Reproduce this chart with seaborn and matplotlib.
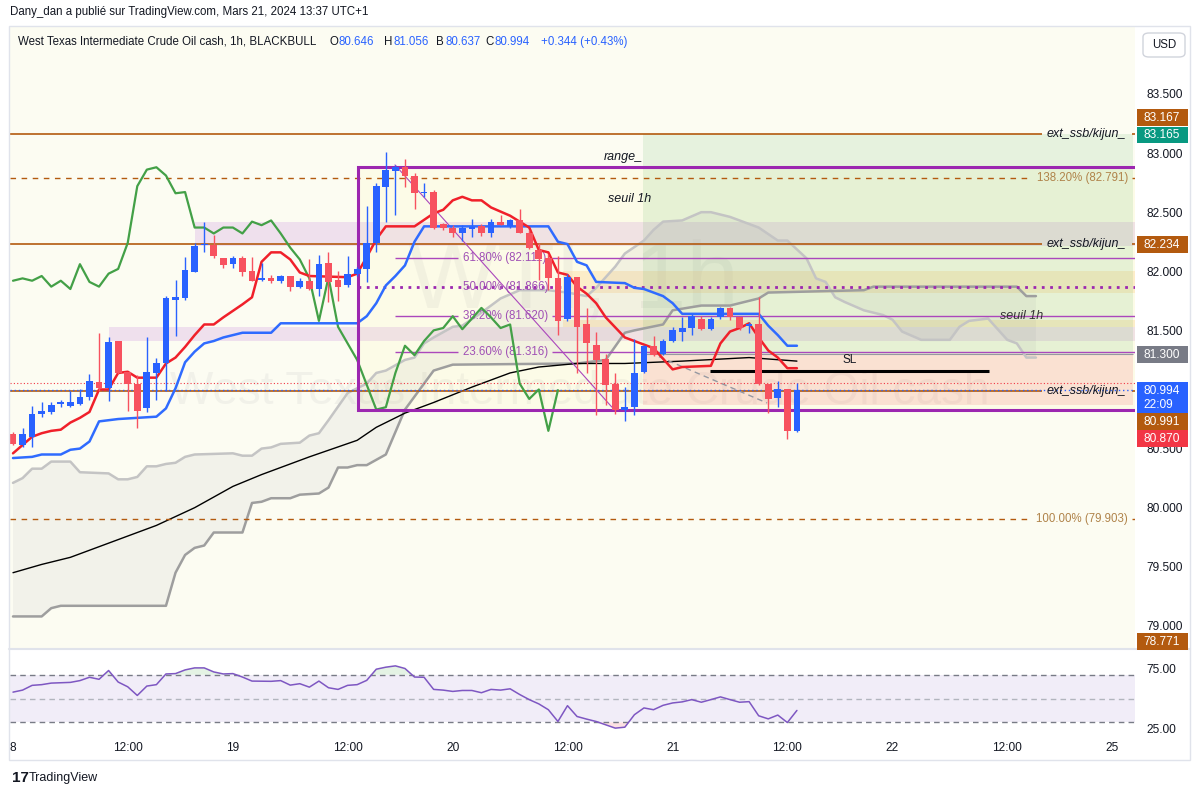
import numpy as np
import matplotlib
matplotlib.use("Agg")
import matplotlib.pyplot as plt
import seaborn as sns
from matplotlib.patches import Rectangle, FancyBboxPatch
from matplotlib.lines import Line2D

sns.set_theme(style="white")
plt.rcParams['font.family'] = ['Liberation Sans', 'DejaVu Sans']

# ---------------- données ----------------
# bougies 1h, WTI (18 -> 21 mars)
opens = [80.62, 80.53, 80.60, 80.79, 80.81, 80.88, 80.86, 80.88, 80.94, 81.06,
         81.01, 81.41, 81.15, 81.05, 80.84, 81.14, 81.22, 81.76, 81.77, 81.99,
         82.22, 82.22, 82.11, 82.06, 82.11, 82.00, 81.93, 81.94, 81.92, 81.96,
         81.87, 81.92, 81.85, 82.07, 81.93, 81.88, 81.98, 82.02, 82.24, 82.71,
         82.85, 82.88, 82.81, 82.66, 82.67, 82.40, 82.37, 82.32, 82.36, 82.38,
         82.32, 82.42, 82.38, 82.43, 82.32, 82.18, 82.11, 81.94, 81.60, 81.95,
         81.55, 81.38, 81.26, 81.05, 80.83, 80.85, 81.15, 81.37, 81.30, 81.41,
         81.49, 81.52, 81.60, 81.51, 81.61, 81.69, 81.61, 81.54, 81.55, 81.05,
         80.93, 81.00, 80.646]
highs = [80.64, 80.67, 80.86, 80.89, 80.89, 80.91, 80.99, 81.00, 81.13, 81.48,
         81.44, 81.41, 81.15, 81.12, 81.44, 81.27, 81.79, 81.93, 82.12, 82.24,
         82.42, 82.31, 82.11, 82.13, 82.13, 82.12, 82.07, 81.97, 81.97, 81.96,
         81.94, 82.10, 82.14, 82.16, 82.00, 82.13, 82.04, 82.55, 82.75, 83.01,
         82.90, 82.95, 82.83, 82.75, 82.69, 82.41, 82.39, 82.39, 82.44, 82.40,
         82.44, 82.48, 82.44, 82.53, 82.35, 82.24, 82.15, 82.13, 81.98, 81.95,
         81.69, 81.49, 81.30, 81.14, 81.02, 81.43, 81.38, 81.45, 81.43, 81.53,
         81.61, 81.64, 81.62, 81.61, 81.70, 81.70, 81.61, 81.57, 81.78, 81.05,
         81.07, 81.00, 81.056]
lows = [80.53, 80.51, 80.51, 80.77, 80.79, 80.85, 80.85, 80.87, 80.91, 80.99,
        80.90, 81.13, 80.82, 80.67, 80.81, 80.91, 80.99, 81.45, 81.76, 81.99,
        82.16, 82.11, 82.03, 82.03, 81.96, 81.92, 81.92, 81.90, 81.90, 81.83,
        81.86, 81.84, 81.79, 81.74, 81.75, 81.87, 81.96, 81.91, 82.16, 82.42,
        82.48, 82.71, 82.53, 82.63, 82.36, 82.35, 82.29, 82.26, 82.29, 82.30,
        82.29, 82.39, 82.37, 82.32, 82.19, 81.93, 81.84, 81.46, 81.58, 81.14,
        81.14, 80.78, 80.87, 80.79, 80.73, 80.78, 81.14, 81.28, 81.29, 81.40,
        81.41, 81.46, 81.50, 81.50, 81.60, 81.59, 81.50, 81.48, 81.04, 80.80,
        80.85, 80.58, 80.637]
closes = [80.54, 80.62, 80.79, 80.82, 80.87, 80.89, 80.89, 80.94, 81.07, 81.01,
          81.40, 81.14, 81.05, 80.82, 81.15, 81.22, 81.77, 81.78, 82.01, 82.21,
          82.23, 82.13, 82.05, 82.11, 81.99, 81.92, 81.94, 81.92, 81.96, 81.87,
          81.92, 81.85, 82.06, 81.91, 81.87, 81.98, 82.02, 82.24, 82.72, 82.86,
          82.88, 82.81, 82.66, 82.67, 82.37, 82.37, 82.32, 82.37, 82.37, 82.32,
          82.42, 82.39, 82.43, 82.32, 82.20, 82.10, 81.94, 81.58, 81.95, 81.53,
          81.39, 81.25, 81.04, 80.83, 80.85, 81.14, 81.37, 81.29, 81.41, 81.50,
          81.52, 81.62, 81.51, 81.60, 81.69, 81.61, 81.52, 81.55, 81.05, 80.92,
          81.00, 80.65, 80.994]

# Ichimoku (lu barre par barre)
tenkan_x = [0, 2, 3, 4, 5, 6, 7, 8, 9, 10, 11, 12, 13, 15, 16, 17, 18, 19, 20, 21, 22, 24, 25, 26,
            27, 28, 29, 30, 31, 35, 36, 37, 38, 39, 42, 44, 45, 46, 47, 48, 49, 50, 52, 54, 55,
            56, 57, 58, 59, 60, 61, 62, 64, 66, 67, 69, 70, 73, 74, 75, 76, 77, 78, 79, 80, 81, 82]
tenkan_y = [80.46, 80.60, 80.63, 80.65, 80.66, 80.72, 80.76, 80.81, 81.00, 81.00, 81.14, 81.15,
            81.10, 81.10, 81.22, 81.27, 81.36, 81.46, 81.55, 81.55, 81.61, 81.72, 81.78, 82.08,
            82.16, 82.16, 82.10, 81.99, 81.96, 81.95, 81.98, 82.12, 82.27, 82.38, 82.38, 82.49,
            82.52, 82.60, 82.63, 82.60, 82.60, 82.54, 82.47, 82.37, 82.18, 82.16, 81.99, 81.97,
            81.87, 81.81, 81.73, 81.61, 81.44, 81.38, 81.35, 81.17, 81.19, 81.20, 81.39, 81.49,
            81.52, 81.56, 81.44, 81.33, 81.27, 81.18, 81.18]
kijun_x = [0, 2, 3, 5, 6, 7, 8, 9, 10, 11, 15, 16, 17, 18, 19, 20, 21, 22, 24, 27, 28, 36, 37,
           38, 39, 40, 41, 42, 43, 56, 57, 58, 59, 60, 61, 64, 65, 66, 68, 69, 70, 78, 79, 80,
           81, 82]
kijun_y = [80.42, 80.43, 80.45, 80.45, 80.49, 80.50, 80.56, 80.73, 80.74, 80.75, 80.77, 80.84,
           81.01, 81.23, 81.32, 81.39, 81.41, 81.44, 81.48, 81.48, 81.56, 81.56, 81.62, 81.73,
           81.88, 81.96, 82.05, 82.25, 82.38, 82.38, 82.25, 82.23, 82.08, 82.05, 81.91, 81.90,
           81.86, 81.85, 81.79, 81.73, 81.64, 81.64, 81.54, 81.46, 81.37, 81.37]
ssa_x = [0, 1, 2, 3, 4, 6, 7, 10, 11, 12, 13, 14, 15, 16, 17, 18, 19, 23, 24, 25, 26, 27, 28,
         30, 31, 32, 33, 35, 37, 38, 39, 41, 42, 43, 44, 46, 47, 49, 51, 53, 56, 58, 60, 61,
         63, 64, 66, 67, 68, 70, 72, 73, 75, 76, 78, 80, 81, 83, 84, 85, 86, 87, 89, 91, 92,
         93, 95, 98, 99, 100, 102, 104, 105, 106, 107]
ssa_y = [80.21, 80.25, 80.33, 80.33, 80.39, 80.39, 80.30, 80.29, 80.24, 80.24, 80.26, 80.35,
         80.35, 80.37, 80.38, 80.43, 80.45, 80.46, 80.44, 80.44, 80.50, 80.51, 80.54, 80.55,
         80.61, 80.63, 80.74, 80.97, 81.05, 81.14, 81.16, 81.25, 81.27, 81.39, 81.44, 81.53,
         81.54, 81.65, 81.77, 81.84, 81.84, 81.82, 81.79, 81.86, 82.04, 82.15, 82.26, 82.35,
         82.42, 82.43, 82.50, 82.50, 82.46, 82.43, 82.37, 82.26, 82.26, 82.11, 81.94, 81.91,
         81.78, 81.74, 81.67, 81.63, 81.59, 81.49, 81.42, 81.42, 81.53, 81.58, 81.60, 81.42,
         81.39, 81.27, 81.27]
ssb_x = [0, 3, 4, 5, 16, 17, 18, 19, 20, 21, 24, 25, 26, 27, 29, 30, 32, 33, 34, 35, 36, 37,
         39, 40, 41, 43, 44, 46, 59, 62, 64, 65, 68, 69, 72, 75, 78, 79, 89, 90, 105, 106, 107]
ssb_y = [79.08, 79.08, 79.15, 79.17, 79.17, 79.45, 79.60, 79.66, 79.68, 79.79, 79.79, 80.04,
         80.05, 80.08, 80.08, 80.11, 80.12, 80.17, 80.34, 80.34, 80.36, 80.36, 80.45, 80.64,
         80.83, 81.05, 81.16, 81.21, 81.22, 81.25, 81.48, 81.50, 81.55, 81.67, 81.71, 81.71,
         81.77, 81.82, 81.84, 81.87, 81.87, 81.79, 81.79]
sma_x = [0, 3, 6, 9, 13, 15, 19, 23, 26, 31, 36, 38, 41, 44, 48, 52, 55, 59, 64, 70, 77, 82]
sma_y = [79.45, 79.52, 79.58, 79.67, 79.79, 79.85, 80.00, 80.18, 80.28, 80.43, 80.57, 80.68,
         80.80, 80.89, 81.02, 81.14, 81.19, 81.22, 81.22, 81.24, 81.27, 81.24]
decalage_chikou = 25

# RSI
rsi_x = [0, 1, 2, 3, 4, 6, 7, 8, 9, 10, 11, 12, 13, 14, 15, 16, 17, 18, 19, 20, 21, 22, 23, 24,
         25, 27, 28, 29, 30, 31, 32, 33, 34, 35, 36, 37, 38, 39, 40, 41, 42, 43, 44, 45, 46, 47,
         48, 49, 50, 51, 52, 53, 54, 55, 56, 57, 58, 59, 60, 61, 62, 63, 64, 65, 66, 67, 68, 69,
         70, 71, 72, 73, 74, 75, 76, 77, 78, 79, 80, 81, 82]
rsi_y = [55.4, 57.1, 61.1, 61.7, 63.0, 63.6, 65.1, 67.9, 66.2, 73.6, 63.9, 59.9, 52.6, 60.5,
         61.7, 70.7, 71.0, 74.1, 75.8, 75.8, 72.4, 70.7, 71.0, 68.1, 64.7, 64.5, 65.1, 61.3,
         62.5, 59.6, 64.7, 59.1, 57.7, 61.1, 61.7, 65.3, 74.7, 76.4, 77.5, 75.3, 68.1, 67.9,
         57.7, 57.1, 56.0, 56.8, 56.8, 54.9, 57.7, 57.1, 58.2, 53.4, 49.1, 45.5, 40.6, 30.7,
         44.0, 34.9, 32.7, 30.7, 27.9, 25.1, 25.9, 36.4, 42.1, 40.6, 44.3, 46.3, 47.2, 49.1,
         46.9, 49.1, 51.4, 49.1, 46.9, 47.4, 35.5, 32.9, 36.1, 29.8, 40.0]

# niveaux tracés
niveaux_ext = [83.165, 82.234, 80.991]
fib_ext = [82.791, 79.903]
fib_ext_lab = ['138.20% (82.791)', '100.00% (79.903)']
fib_niv = [82.111, 81.866, 81.620, 81.316]
fib_lab = ['61.80% (82.111)', '50.00% (81.866)', '38.20% (81.620)', '23.60% (81.316)']
range_haut, range_bas, range_mid = 82.88, 80.83, 81.866
niveau_sl = 81.156
entree, cible, stop = 81.30, 83.165, 80.87
bandes_roses = [(82.21, 82.42), (81.41, 81.53)]
bandes_oranges = [(81.82, 82.00), (81.53, 81.59)]
dernier_prix = 80.994
haut_barre = 81.056
fib_trend = [82.90, 80.85]
fib_trend2 = [81.31, 80.886]

axe_prix = [79.0, 79.5, 80.0, 80.5, 81.0, 81.5, 82.0, 82.5, 83.0, 83.5]
ticks_temps = [0, 12, 23, 35, 46, 58, 69, 81, 92, 104, 115]
labels_temps = ['8', '12:00', '19', '12:00', '20', '12:00', '21', '12:00', '22', '12:00', '25']

etiquettes = ['83.167', '83.165', '82.234', '81.300', '80.994\n22:09', '80.991', '80.870', '78.771']

# ---------------- mise en page ----------------
W, H = 1201, 797
BRUN = '#b35a0f'
VIOLET = '#9c27b0'
CREME = '#fcfcf2'
TXT = '#131722'


def bx(px):
    # position horizontale écran -> indice de barre
    return (px - 13) / 9.56


def ftxt(x, y, s, **kw):
    return fig.text(x / W, 1 - y / H, s, **kw)


fig = plt.figure(figsize=(W / 100, H / 100), dpi=100, facecolor='white')
ax = fig.add_axes([10 / W, 149 / H, 1125 / W, 622 / H], facecolor=CREME)
ax2 = fig.add_axes([10 / W, 59 / H, 1125 / W, 89 / H], facecolor='white')
XMIN, XMAX = bx(10), bx(1135)

# zones de fond
debut_roses = [bx(195), bx(109)]
for (b0, b1), x0 in zip(bandes_roses, debut_roses):
    ax.add_patch(Rectangle((x0, b0), XMAX - x0, b1 - b0, fc='#e1bee7', alpha=0.45, ec='none', zorder=0.5))
for b0, b1 in bandes_oranges:
    ax.add_patch(Rectangle((bx(563), b0), XMAX - bx(563), b1 - b0, fc='#ffcc80', alpha=0.3, ec='none', zorder=0.5))

# outil position longue
ax.add_patch(Rectangle((bx(643), entree), bx(1133) - bx(643), cible - entree, fc='#4caf50', alpha=0.12, ec='none', zorder=0.6))
ax.add_patch(Rectangle((bx(643), stop), bx(1133) - bx(643), entree - stop, fc='#f23645', alpha=0.13, ec='none', zorder=0.6))
ax.hlines(entree, bx(643), bx(1133), color='#9598a1', lw=0.8, zorder=0.7)

# boîte range
ax.add_patch(Rectangle((bx(358), range_bas), XMAX - bx(358) + 2, range_haut - range_bas, fc='#fff59d', alpha=0.12,
                       ec='none', zorder=0.55))
ax.add_patch(Rectangle((bx(358), range_bas), XMAX - bx(358) + 2, range_haut - range_bas, fill=False,
                       ec=VIOLET, lw=2.2, zorder=3.5))
ax.hlines(range_mid, bx(358), XMAX, color=VIOLET, lw=2, ls=(0, (1, 2)), zorder=2)

# filigrane
ax.text(573 / W, 1 - 283 / H, 'WTI, 1h', transform=fig.transFigure, ha='center', va='center',
        fontsize=68, color='#787b86', alpha=0.08, zorder=0.4)
ax.text(580 / W, 1 - 392 / H, 'West Texas Intermediate Crude Oil cash', transform=fig.transFigure,
        ha='center', va='center', fontsize=33, color='#787b86', alpha=0.08, zorder=0.4)

# nuage Ichimoku
ax.fill(np.r_[ssa_x, ssb_x[::-1]], np.r_[ssa_y, ssb_y[::-1]], color='#787b86', alpha=0.07, lw=0, zorder=1)
sns.lineplot(x=ssa_x, y=ssa_y, ax=ax, color='#c4c4c4', lw=1.8, zorder=1.5)
sns.lineplot(x=ssb_x, y=ssb_y, ax=ax, color='#9e9e9e', lw=1.8, zorder=1.5)
sns.lineplot(x=sma_x, y=sma_y, ax=ax, color='black', lw=1, zorder=2)

# niveaux horizontaux
for lvl in niveaux_ext:
    ax.hlines(lvl, XMIN, bx(1042), color=BRUN, lw=1.2, zorder=2)
    ax.hlines(lvl, bx(1132), XMAX, color=BRUN, lw=1.2, zorder=2)
    ax.text(bx(1047), lvl, 'ext_ssb/kijun_', style='italic', fontsize=9, color=TXT, va='center', zorder=3)
for lvl, lab in zip(fib_ext, fib_ext_lab):
    ax.hlines(lvl, XMIN, bx(1032), color=BRUN, lw=1, ls=(0, (4, 4)), zorder=2)
    ax.hlines(lvl, bx(1132), XMAX, color=BRUN, lw=1, zorder=2)
    ax.text(bx(1128), lvl, lab, fontsize=8.3, color='#b0834a', ha='right', va='center', zorder=3)
for lvl, lab in zip(fib_niv, fib_lab):
    if lvl != range_mid:
        ax.hlines(lvl, bx(395), bx(458), color='#ab47bc', lw=1, zorder=2)
        ax.hlines(lvl, bx(552), XMAX, color='#ab47bc', lw=1, zorder=2)
    ax.text(bx(463), lvl, lab, fontsize=8.3, color='#a050b5', va='center', zorder=2.5)
ax.plot([bx(395), bx(612)], fib_trend, color='#ab47bc', lw=0.8, zorder=2)
ax.plot([bx(650), bx(767)], fib_trend2, color='#9598a1', lw=1, ls=(0, (4, 3)), zorder=2)
ax.hlines(niveau_sl, bx(710), bx(989), color='black', lw=2.2, zorder=3)
ax.text(bx(850), niveau_sl + 0.09, 'SL', fontsize=8.5, color=TXT, ha='center', va='center', zorder=3)
ax.hlines(haut_barre, XMIN, XMAX, color='#f23645', lw=0.8, ls=(0, (1, 2)), zorder=2)
ax.hlines(dernier_prix, XMIN, XMAX, color='#2962ff', lw=1, ls=(0, (1, 2)), zorder=2.2)

# lignes Ichimoku (chikou = clôtures décalées de 25 barres)
bars = np.arange(len(closes))
chikou = closes[decalage_chikou:]
sns.lineplot(x=bars[:len(chikou)], y=chikou, ax=ax, color='#43a047', lw=1.6, zorder=3)
sns.lineplot(x=kijun_x, y=kijun_y, ax=ax, color='#2f6bff', lw=1.8, zorder=3)
sns.lineplot(x=tenkan_x, y=tenkan_y, ax=ax, color='#f0202a', lw=1.8, zorder=3)

# bougies
o, h, l, c = map(np.array, (opens, highs, lows, closes))
coul = np.where(c >= o, '#2962ff', '#f7525f')
ax.vlines(bars, l, h, colors=coul, lw=1, zorder=5)
ax.bar(bars, np.maximum(np.abs(c - o), 0.012), bottom=np.minimum(o, c), width=0.7, color=coul, lw=0, zorder=6)

# textes dans le graphique
ax.text(bx(623), 82.97, 'range_', style='italic', fontsize=9, color=TXT, ha='center', va='center', zorder=3)
ax.text(bx(630), 82.61, 'seuil 1h', style='italic', fontsize=9, color=TXT, ha='center', va='center', zorder=3)
ax.text(bx(1022), 81.62, 'seuil 1h', style='italic', fontsize=9, color='#333333', ha='center', va='center', zorder=3)

ax.set_xlim(XMIN, XMAX)
ax.set_ylim(78.813, 84.075)
ax.set_xticks([])
ax.yaxis.tick_right()
ax.set_yticks(axe_prix)
ax.set_yticklabels([f'{v:.3f}' for v in axe_prix])
ax.tick_params(axis='y', length=0, pad=8, labelsize=8.6, labelcolor=TXT)
ax.set_xlabel('')
ax.set_ylabel('')
for s in ax.spines.values():
    s.set_visible(False)

# ---------------- RSI ----------------
rx, ry = np.array(rsi_x), np.array(rsi_y)
ax2.axhspan(30, 70, color='#7e57c2', alpha=0.1, lw=0)
ax2.axhline(70, color='#787b86', lw=1, ls=(0, (4, 3)))
ax2.axhline(50, color='#b2b5be', lw=1, ls=(0, (4, 3)))
ax2.axhline(30, color='#787b86', lw=1, ls=(0, (4, 3)))
ax2.fill_between(rx, ry, 70, where=ry > 70, interpolate=True, color='#4caf50', alpha=0.15, lw=0)
ax2.fill_between(rx, ry, 30, where=ry < 30, interpolate=True, color='#f23645', alpha=0.15, lw=0)
sns.lineplot(x=rx, y=ry, ax=ax2, color='#7e57c2', lw=1.1)
ax2.set_xlim(XMIN, XMAX)
ax2.set_ylim(16.8, 91.7)
ax2.yaxis.tick_right()
ax2.set_yticks([75, 25])
ax2.set_yticklabels(['75.00', '25.00'])
ax2.set_xticks(ticks_temps)
ax2.set_xticklabels(labels_temps)
ax2.tick_params(axis='y', length=0, pad=8, labelsize=8.6, labelcolor=TXT)
ax2.tick_params(axis='x', length=0, pad=3, labelsize=8.6, labelcolor=TXT)
ax2.set_xlabel('')
ax2.set_ylabel('')
for s in ax2.spines.values():
    s.set_visible(False)

# ---------------- cadre, en-tête, étiquettes de prix ----------------
fig.add_artist(Rectangle((9 / W, 1 - 760 / H), 1181 / W, 734 / H, transform=fig.transFigure,
                         fill=False, ec='#e0e3eb', lw=1))
fig.add_artist(Line2D([9 / W, 1190 / W], [1 - 649 / H] * 2, color='#e0e3eb', lw=1.5))

ftxt(10, 12, 'Dany_dan a publié sur TradingView.com, Mars 21, 2024 13:37 UTC+1', fontsize=8.3,
     color=TXT, va='center')
ftxt(18, 42, 'West Texas Intermediate Crude Oil cash, 1h, BLACKBULL', fontsize=8.3, color=TXT, va='center')
for lettre, val, xp in [('O', '80.646', 329), ('H', '81.056', 384), ('B', '80.637', 436), ('C', '80.994', 485)]:
    ftxt(xp, 42, lettre, fontsize=8.3, color=TXT, va='center')
    ftxt(xp + 9.5, 42, val, fontsize=8.3, color='#2962ff', va='center')
ftxt(541, 42, '+0.344 (+0.43%)', fontsize=8.3, color='#2962ff', va='center')

fig.add_artist(FancyBboxPatch((1143 / W, 1 - 57 / H), 42 / W, 24 / H, boxstyle='round,pad=0,rounding_size=0.005',
                              transform=fig.transFigure, fc='white', ec='#d1d4dc', lw=1))
ftxt(1164, 45, 'USD', fontsize=8.3, color=TXT, ha='center', va='center')

tag_coul = [BRUN, '#089981', BRUN, '#787b86', '#2962ff', BRUN, '#f23645', BRUN]
tag_pos = [(109, 126), (127, 143), (236, 253), (346, 363), (382, 413), (413, 430), (430, 447), (633, 650)]
for txt, col, (y0, y1) in zip(etiquettes, tag_coul, tag_pos):
    fig.add_artist(Rectangle((1137 / W, 1 - y1 / H), 51 / W, (y1 - y0) / H, transform=fig.transFigure,
                             fc=col, ec='none', zorder=5))
    ftxt(1143, (y0 + y1) / 2 + 0.5, txt, fontsize=8.6, color='white', va='center', ha='left',
         linespacing=1.25, zorder=6)

ftxt(12, 778, '17', fontsize=11, fontweight='bold', color=TXT, va='center')
ftxt(29, 778, 'TradingView', fontsize=9, color=TXT, va='center')

fig.savefig('out.png', dpi=100, facecolor='white')
